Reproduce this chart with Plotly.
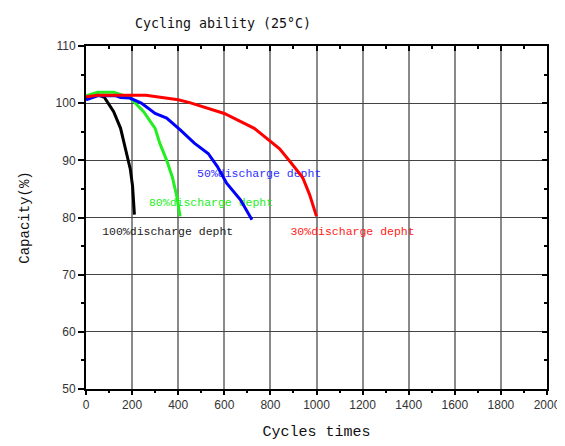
import plotly.graph_objects as go

# 100% discharge depth
x100 = [0, 50, 80, 120, 150, 165, 180, 192, 202, 210]
y100 = [100.8, 101.5, 101.0, 98.5, 95.6, 93.0, 90.7, 88.5, 85.5, 80.5]
# 80% discharge depth
x80 = [0, 50, 120, 190, 250, 300, 320, 350, 375, 395, 408]
y80 = [101.3, 101.9, 101.9, 101.0, 98.5, 95.6, 93.0, 90.0, 87.0, 83.5, 80.2]
# 50% discharge depth
x50 = [0, 50, 130, 150, 190, 240, 300, 350, 410, 470, 530, 570, 610, 670, 720]
y50 = [100.6, 101.3, 101.3, 101.0, 100.9, 100.0, 98.2, 97.4, 95.3, 93.0, 91.2, 88.9, 86.0, 83.1, 79.6]
# 30% discharge depth
x30 = [0, 50, 260, 400, 450, 600, 730, 840, 885, 940, 970, 1000]
y30 = [101.1, 101.4, 101.4, 100.6, 100.1, 98.2, 95.6, 92.0, 89.8, 87.0, 84.0, 80.2]

label_text = ["50%discharge depht", "80%discharge depht", "100%discharge depht", "30%discharge depht"]
label_x = [482, 273, 70, 887]
label_y = [87.6, 82.5, 77.5, 77.5]
label_color = ["#3030ff", "#22ee22", "#222222", "#ff2020"]

fig = go.Figure()

for t, lx, ly, c in zip(label_text, label_x, label_y, label_color):
    fig.add_trace(go.Scatter(x=[lx], y=[ly], mode="text", text=[t], textposition="middle right",
                             textfont=dict(family="Liberation Mono", size=11.5, color=c),
                             showlegend=False, hoverinfo="skip"))

series = [(x100, y100, "#000000"), (x80, y80, "#22ee22"), (x50, y50, "#0000ff"), (x30, y30, "#ff0000")]
for xs, ys, c in series:
    fig.add_trace(go.Scatter(x=xs, y=ys, mode="lines", line=dict(color=c, width=3),
                             showlegend=False))

fig.add_trace(go.Scatter(x=[], y=[], xaxis="x2", yaxis="y2", showlegend=False))

tickfont = dict(family="Liberation Sans", size=12, color="#333333")

fig.update_layout(
    width=557, height=438,
    margin=dict(l=78, r=18, t=38, b=57),
    paper_bgcolor="white", plot_bgcolor="white",
    title=dict(text="Cycling ability (25°C)", x=0.228, xanchor="left", y=0.966, yanchor="middle",
               yref="container", automargin=False,
               font=dict(family="DejaVu Sans Mono", size=13.3, color="#111111")),
    xaxis=dict(range=[0, 2000], dtick=200, tick0=0, ticks="outside", ticklen=4, tickwidth=2,
               tickcolor="black", showline=True, linewidth=2, linecolor="black",
               showgrid=True, gridcolor="#8a8a8a", gridwidth=1.5, zeroline=False,
               automargin=False,
               minor=dict(dtick=100, ticks="outside", ticklen=2, tickwidth=2, tickcolor="black", showgrid=False),
               tickfont=tickfont,
               title=dict(text="Cycles times", standoff=14,
                          font=dict(family="Liberation Mono", size=15, color="#111111"))),
    yaxis=dict(range=[50, 110], dtick=10, tick0=50, ticks="outside", ticklen=6, tickwidth=2,
               tickcolor="black", showline=True, linewidth=2, linecolor="black",
               showgrid=True, gridcolor="#444444", gridwidth=1, zeroline=False,
               automargin=False,
               minor=dict(dtick=5, ticks="outside", ticklen=3, tickwidth=2, tickcolor="black", showgrid=False),
               tickfont=tickfont,
               title=dict(text="Capacity(%)", standoff=23,
                          font=dict(family="Liberation Mono", size=14, color="#111111"))),
    xaxis2=dict(range=[0, 2000], overlaying="x", side="top", dtick=200, tick0=0, ticks="inside",
                ticklen=5, tickwidth=2, tickcolor="black", showline=True, linewidth=2,
                linecolor="black", showgrid=False, zeroline=False, showticklabels=False,
                automargin=False,
                minor=dict(dtick=100, ticks="inside", ticklen=3, tickwidth=2, tickcolor="black")),
    yaxis2=dict(range=[50, 110], overlaying="y", side="right", dtick=10, tick0=50, ticks="inside",
                ticklen=5, tickwidth=2, tickcolor="black", showline=True, linewidth=2,
                linecolor="black", showgrid=False, zeroline=False, showticklabels=False,
                automargin=False,
                minor=dict(dtick=5, ticks="inside", ticklen=3, tickwidth=2, tickcolor="black")),
)

fig.write_html("out.html")
